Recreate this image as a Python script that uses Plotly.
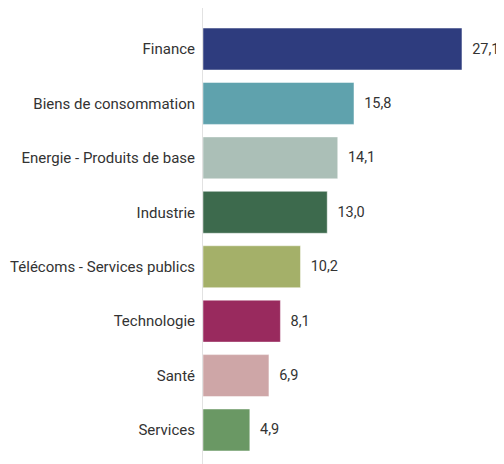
import plotly.graph_objects as go

categories = ["Finance", "Biens de consommation", "Energie - Produits de base", "Industrie",
              "Télécoms - Services publics", "Technologie", "Santé", "Services"]
values = [27.1, 15.8, 14.1, 13.0, 10.2, 8.1, 6.9, 4.9]
colors = ["#2E3C7E", "#5FA2AD", "#ABBFB7", "#3D6A4D", "#A4B069", "#992A5E", "#CEA6A7", "#6A9864"]

fig = go.Figure(go.Bar(
    y=categories, x=values, orientation="h",
    marker=dict(color=colors, line=dict(color="rgba(255,255,255,0.45)", width=1)),
    texttemplate="  %{x:.1f}", textposition="outside", cliponaxis=False,
    textfont=dict(family="Roboto", size=14.5, color="#333333"),
    width=0.77,
))
fig.update_layout(
    width=496, height=456, separators=", ",
    margin=dict(l=195, r=0, t=0, b=0, autoexpand=False),
    plot_bgcolor="white", paper_bgcolor="white", showlegend=False,
    font=dict(family="Roboto", size=15, color="#333333"),
)
fig.update_xaxes(range=[0, 31.5], visible=False, showgrid=False)
fig.update_yaxes(range=[7.625, -0.754], showline=True, linecolor="#e2e2e2", linewidth=1,
                 ticks="", ticklabelstandoff=4, showgrid=False, automargin=False,
                 tickfont=dict(family="Roboto", size=15, color="#333333"))
fig.write_html("out.html")
